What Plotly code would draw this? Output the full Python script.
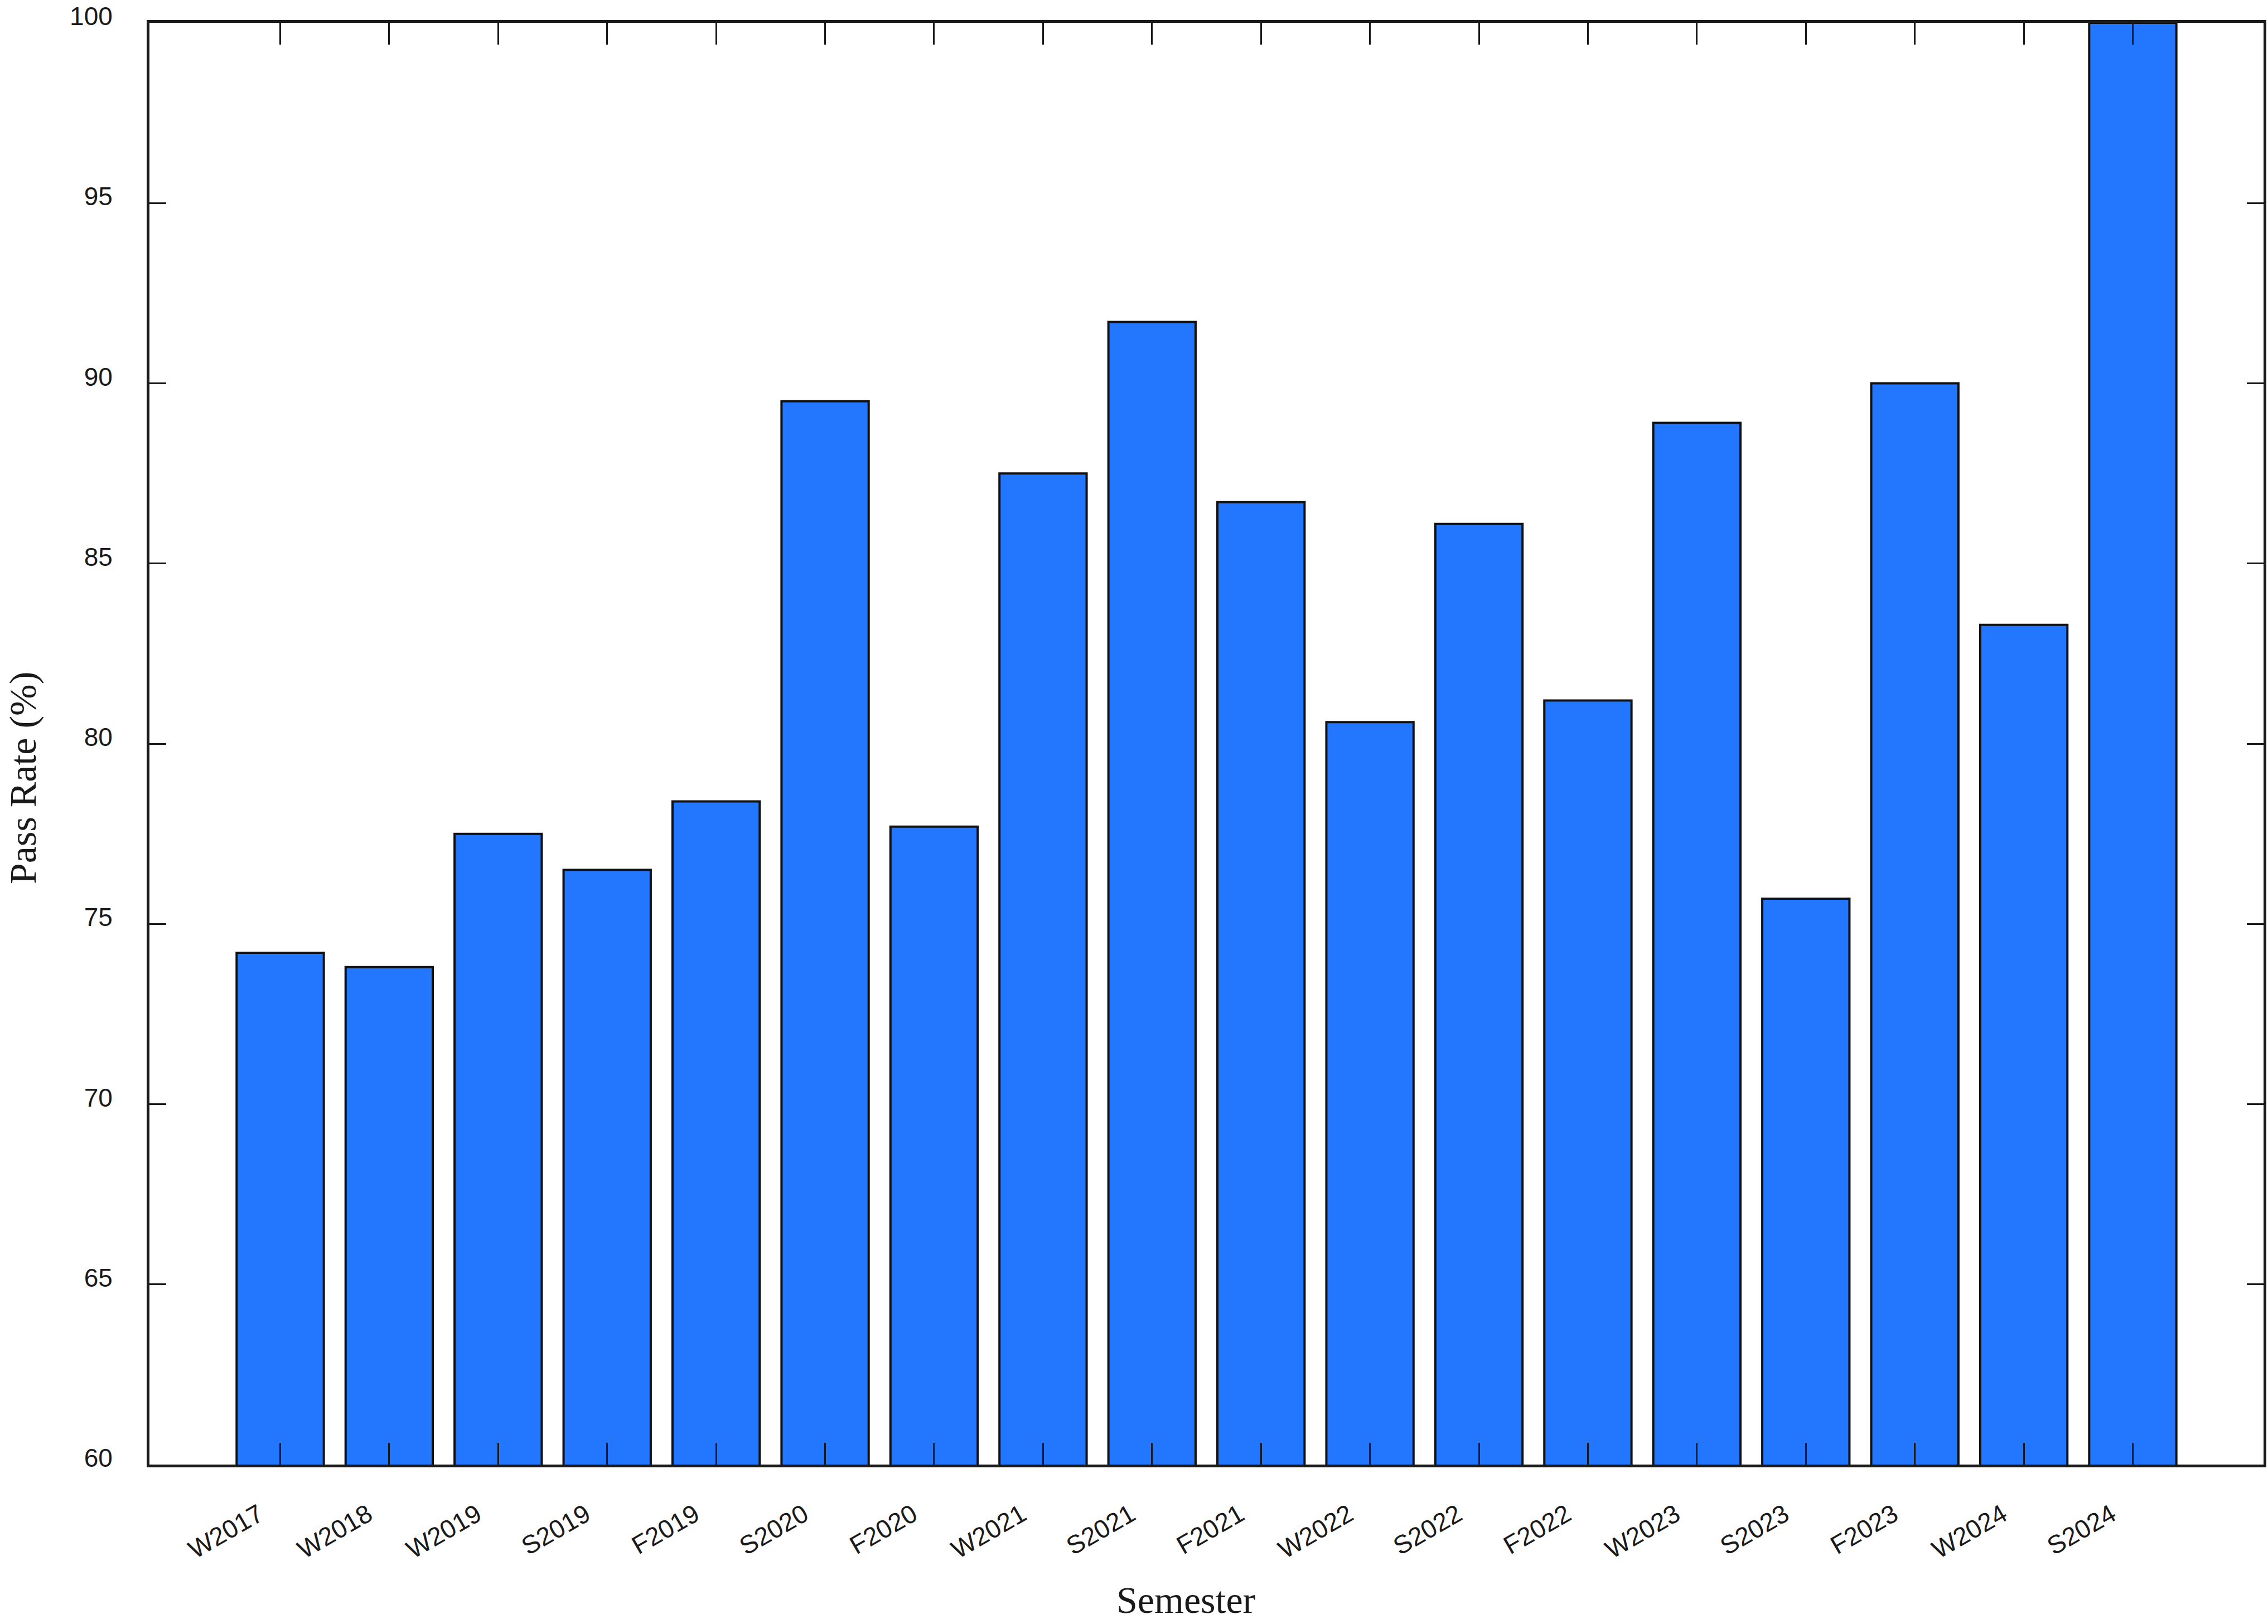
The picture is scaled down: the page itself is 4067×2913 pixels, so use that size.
import plotly.graph_objects as go

semesters = ["W2017", "W2018", "W2019", "S2019", "F2019", "S2020", "F2020", "W2021", "S2021",
             "F2021", "W2022", "S2022", "F2022", "W2023", "S2023", "F2023", "W2024", "S2024"]
pass_rate = [74.2, 73.8, 77.5, 76.5, 78.4, 89.5, 77.7, 87.5, 91.7,
             86.7, 80.6, 86.1, 81.2, 88.9, 75.7, 90.0, 83.3, 100.0]
y_ticks = [60, 65, 70, 75, 80, 85, 90, 95, 100]

xs = list(range(len(semesters)))

fig = go.Figure(go.Bar(
    x=xs, y=pass_rate, width=0.8,
    marker=dict(color="#2377FF", line=dict(color="#111111", width=4)),
))

axis_font = dict(family="Liberation Sans, Arial, sans-serif", size=46, color="#1a1a1a")
title_font = dict(family="Liberation Serif, Times New Roman, serif", size=68, color="#1a1a1a")

fig.update_layout(
    width=4067, height=2913,
    margin=dict(l=268, r=3, t=38, b=286),
    paper_bgcolor="white", plot_bgcolor="white",
    showlegend=False,
    annotations=[
        dict(text="Semester", font=title_font, xref="paper", yref="paper",
             x=0.4905, y=0, yshift=-243, xanchor="center", yanchor="middle", showarrow=False),
        dict(text="Pass Rate (%)", font=title_font, xref="paper", yref="paper",
             x=0, xshift=-227, y=0.476, xanchor="center", yanchor="middle",
             textangle=-90, showarrow=False),
    ],
)
fig.update_xaxes(
    range=[-1.2, 18.2], tickmode="array", tickvals=xs, ticktext=semesters,
    tickangle=-30, tickfont=axis_font,
    ticks="inside", ticklen=39, tickwidth=3, tickcolor="#1a1a1a",
    showline=True, linewidth=5, linecolor="#1a1a1a", mirror="ticks",
    showgrid=False, zeroline=False,
    ticklabelstandoff=40, ticklabelshift=-38,
)
fig.update_yaxes(
    range=[60, 100], tickmode="array", tickvals=y_ticks,
    tickfont=axis_font,
    ticks="inside", ticklen=30, tickwidth=3, tickcolor="#1a1a1a",
    showline=True, linewidth=5, linecolor="#1a1a1a", mirror="ticks",
    showgrid=False, zeroline=False,
    ticklabelstandoff=52, ticklabelshift=-12,
)

fig.write_html("out.html")
